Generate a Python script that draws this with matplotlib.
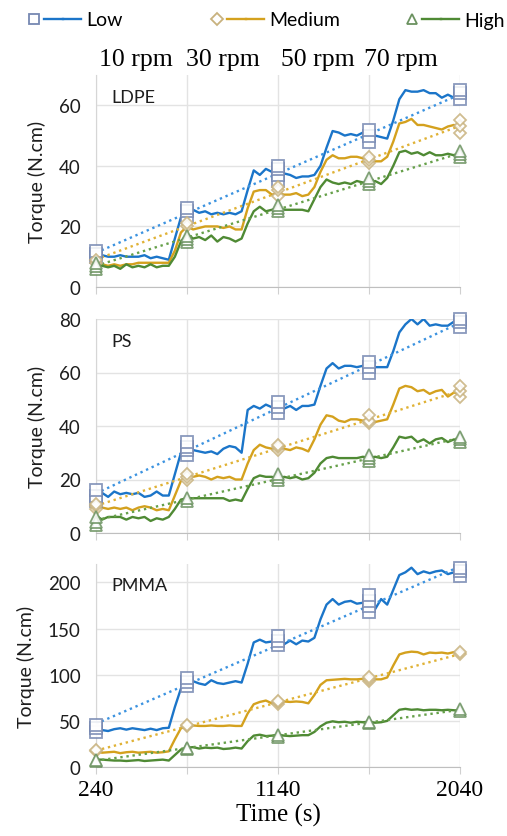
import numpy as np
import matplotlib
matplotlib.use("Agg")
import matplotlib.pyplot as plt
from matplotlib.lines import Line2D
from matplotlib.legend_handler import HandlerTuple

# sampling times of the torque traces (s)
times = np.arange(240, 2041, 30)
# times where the replicate readings were taken
check_times = [240, 690, 1140, 1590, 2040]
rpm_labels = ["10 rpm", "30 rpm", "50 rpm", "70 rpm"]
xtick_labels = ["240", "", "1140", "", "2040"]

# LDPE torque traces (N.cm)
ldpe_low = [11, 10.5, 10, 10, 10.5, 10, 10, 10, 10.5, 9.5, 10, 9.5, 9,
            16, 23,
            25, 25.5, 24.5, 25, 24, 24.5, 24, 24.5, 24, 25,
            32,
            38.5, 37, 39, 38, 38, 37.5, 37, 36, 36.5, 36.5,
            37, 40, 46,
            51.5, 51, 50, 50.5, 50, 51, 50.5, 50, 49.5,
            49, 55, 62,
            65, 64.5, 64.5, 65, 64, 64, 62.5, 63.5, 62.5, 63]
ldpe_med = [8, 7.5, 7, 7.5, 7, 7.5, 7.5, 8, 8, 8, 8, 8, 8,
            12, 18,
            20, 19, 19.5, 20, 20, 20, 19.5, 20, 19, 19,
            26,
            31.5, 32, 32, 30.5, 31, 30.5, 30.5, 31, 30, 30.5,
            33, 38, 42,
            43.5, 42.5, 42.5, 43, 43, 42.5, 41.5, 41.5, 41.5,
            43, 48, 54,
            54.5, 55.5, 53.5, 53.5, 53, 52.5, 52, 53, 53.5, 52]
ldpe_high = [7.5, 7, 6.5, 7, 6, 7.5, 6.5, 7, 6.5, 7.5, 6.5, 7, 7,
             10, 15,
             17.5, 16, 16.5, 15.5, 17, 15, 16.5, 16, 15, 16,
             21,
             25, 26.5, 25, 25.5, 26, 25.5, 25.5, 25.5, 25.5, 25,
             29, 33, 35.5,
             34.5, 34, 34.5, 34, 35, 34.5, 34, 35, 34,
             36, 40, 44.5,
             45, 44, 44.5, 43.5, 44.5, 43.5, 43.5, 44, 43.5, 43.5]
ldpe_low_pts = [[10, 11, 12], [23, 25, 26], [35, 37, 39, 40], [48, 50, 52], [62, 64, 65]]
ldpe_med_pts = [[8, 9], [20, 21], [30, 32, 33], [41, 42, 43], [51, 53, 55]]
ldpe_high_pts = [[6, 7, 8], [15, 16, 17], [25, 26, 27], [34, 35, 36], [43, 44, 45]]

# PS torque traces (N.cm)
ps_low = [15.5, 15, 13.5, 15.5, 14.5, 15, 14.5, 15, 13.5, 14, 15.5, 14, 14,
          22, 30,
          31, 31, 30.5, 30, 30.5, 29.5, 31.5, 32.5, 32, 30,
          46,
          47.5, 46.5, 48, 47, 47, 46.5, 47.5, 46, 47.5, 47.5,
          48, 55, 61.5,
          63.5, 61.5, 62.5, 62.5, 62, 62.5, 63, 62, 62,
          62, 68, 75,
          78, 80, 78, 80, 77.5, 78, 77.5, 77.5, 79, 77]
ps_med = [10, 9.5, 9, 9.5, 9, 9.5, 8.5, 9.5, 10, 9.5, 8.5, 9, 8.5,
          14, 19.5,
          20.5, 21, 21.5, 21, 20, 21, 20.5, 21, 20, 20,
          26,
          31, 33, 32, 31.5, 31.5, 31.5, 31, 32, 31.5, 30.5,
          35, 40.5, 44,
          43.5, 42, 41.5, 42.5, 42.5, 42, 42.5, 41.5, 42,
          42.5, 48, 54,
          55, 54.5, 53, 53.5, 52, 53, 53.5, 51, 52.5, 52]
ps_high = [6.5, 5, 6, 6, 6, 5, 6, 5.5, 6, 4.5, 5.5, 5, 6,
           9, 12.5,
           13, 13, 13, 13, 13, 13, 13, 12, 12.5, 12,
           16.5,
           20.5, 21.5, 21, 21, 20, 21, 20.5, 21, 20, 20.5,
           22.5, 26, 28,
           28.5, 28, 28, 28, 28, 28.5, 28, 28.5, 28,
           28.5, 32, 36,
           35.5, 36, 34, 35, 33.5, 35, 35.5, 34, 35, 34.5]
ps_low_pts = [[12, 14, 16], [29, 31, 32, 34], [45, 47, 49], [60, 62, 64], [77, 79, 80]]
ps_med_pts = [[9, 10, 11], [20, 21, 22], [31, 32, 33], [41, 42, 44], [51, 53, 55]]
ps_high_pts = [[3, 4, 6], [12, 13], [20, 21, 22], [27, 28, 29], [34, 35, 36]]

# PMMA torque traces (N.cm)
pmma_low = [42, 40, 39, 41, 42, 40.5, 42, 41, 40, 41.5, 40, 42, 42.5,
            65, 85,
            90, 93, 90.5, 89, 94, 91, 90, 91.5, 93, 91.5,
            112,
            135, 138, 135, 136, 139, 133, 137, 133, 137, 136,
            140, 160, 176,
            182, 176, 179, 180, 177, 178, 173, 171, 182,
            176, 192, 208,
            211, 216, 209, 212, 210, 212, 213, 209, 211, 210]
pmma_med = [17, 15.5, 16, 16.5, 15, 16, 16.5, 15.5, 16, 16.5, 15.5, 16, 17,
            30, 42,
            44, 45, 44.5, 44.5, 45, 44.5, 44.5, 45, 44.5, 44.5,
            58,
            68, 70.5, 72, 69, 70.5, 71, 70.5, 71, 70.5, 69,
            78, 89, 94,
            94.5, 95, 95.5, 95, 95, 95.5, 94.5, 95, 95,
            97, 110, 122,
            124, 125, 124.5, 122, 124, 123.5, 124, 123, 124.5, 123.5]
pmma_high = [8, 8, 7.5, 7, 7, 6.5, 7, 7.5, 6.5, 7, 7.5, 8, 7,
             13, 19,
             21, 21.5, 20, 21, 20.5, 21, 19.5, 20, 21, 20,
             28,
             34, 35, 33.5, 34, 35, 34, 33.5, 34, 34.5, 34.5,
             38, 44, 48,
             49.5, 48.5, 49, 48, 49, 48.5, 49, 48, 48.5,
             50, 56, 62,
             63, 62, 62.5, 61.5, 62, 62, 61.5, 62, 61.5, 61]
pmma_low_pts = [[38, 42, 45], [88, 92, 96], [132, 137, 142], [168, 175, 180, 186], [207, 212, 216]]
pmma_med_pts = [[17, 18], [44, 46], [68, 70, 72], [93, 95, 97], [122, 125]]
pmma_high_pts = [[6, 8], [20, 21], [33, 35], [48, 49], [61, 63]]

panels = [
    ("LDPE", [ldpe_low, ldpe_med, ldpe_high],
     [ldpe_low_pts, ldpe_med_pts, ldpe_high_pts], 70, [0, 20, 40, 60]),
    ("PS", [ps_low, ps_med, ps_high],
     [ps_low_pts, ps_med_pts, ps_high_pts], 80, [0, 20, 40, 60, 80]),
    ("PMMA", [pmma_low, pmma_med, pmma_high],
     [pmma_low_pts, pmma_med_pts, pmma_high_pts], 220, [0, 50, 100, 150, 200]),
]

series_names = ["Low", "Medium", "High"]
line_colors = ["#1b75c9", "#d4a11e", "#4f8a34"]
trend_colors = ["#3c93e0", "#e0b236", "#66a04a"]
marker_shapes = ["s", "D", "^"]
marker_sizes = [8, 6.5, 8.5]
marker_edges = ["#7688b2", "#c8b27e", "#6b9260"]

sans = ["Lato", "DejaVu Sans"]
serif = ["Liberation Serif", "DejaVu Serif"]
ink = "#1e1e1e"

fig = plt.figure(figsize=(5.07, 8.37), dpi=100)
W, H = 507, 837
boxes = [(76, 288), (320, 534), (565, 768)]
left_px, right_px = 96, 460

for (name, traces, reps, ymax, yticks), (top, bot) in zip(panels, boxes):
    ax = fig.add_axes([left_px / W, 1 - bot / H, (right_px - left_px) / W, (bot - top) / H])
    for k in range(3):
        ax.plot(times, traces[k], color=line_colors[k], lw=1.7, zorder=3)
        # linear trend through all replicate readings
        xs = np.concatenate([np.full(len(r), t) for t, r in zip(check_times, reps[k])])
        ys = np.concatenate([np.array(r, float) for r in reps[k]])
        a, b = np.polyfit(xs, ys, 1)
        tx = np.array([check_times[0], check_times[-1]])
        ax.plot(tx, a * tx + b, color=trend_colors[k], lw=1.7,
                ls=(0, (1, 1.6)), zorder=4)
        for t, r in zip(check_times, reps[k]):
            ax.plot(np.full(len(r), t), r, ls="none", marker=marker_shapes[k],
                    ms=marker_sizes[k], mfc="white", mec=marker_edges[k],
                    mew=1.3, alpha=0.85, zorder=5, clip_on=False)
    ax.set_xlim(240, 2040)
    ax.set_ylim(0, ymax)
    ax.set_xticks(check_times)
    ax.set_yticks(yticks)
    ax.grid(True, color="#e3e3e3", lw=1.0, zorder=0)
    ax.set_axisbelow(True)
    for s in ["top", "right"]:
        ax.spines[s].set_visible(False)
    ax.spines["left"].set_color("#d6d6d6")
    ax.spines["bottom"].set_color("#bfbfbf")
    ax.tick_params(axis="y", length=0, pad=11, labelsize=13.5, labelcolor=ink)
    ax.tick_params(axis="x", length=5, color="#d0d0d0", direction="out")
    for lab in ax.get_yticklabels():
        lab.set_family(sans)
    ax.set_ylabel("Torque (N.cm)", family=sans, fontsize=14, color=ink, labelpad=9)
    ax.text(0.043, 0.935, name, transform=ax.transAxes, family=sans, fontsize=13,
            ha="left", va="top", color=ink)
    if name == "PMMA":
        ax.set_xticklabels(xtick_labels, family=serif, fontsize=17)
        ax.set_xlabel("Time (s)", family=serif, fontsize=18, labelpad=2)
    else:
        ax.set_xticklabels([])

# speed labels above the first panel
for lab, xc in zip(rpm_labels, [136, 223, 318, 401]):
    fig.text(xc / W, 1 - 60 / H, lab, family=serif, fontsize=18.5,
             ha="center", va="center")

# legend entries (marker, then a longer line, then label) spread along the top
for k, x0 in enumerate([25, 208, 403]):
    mk = Line2D([], [], ls="none", marker=marker_shapes[k], ms=marker_sizes[k] * 0.9,
                mfc="white", mec=marker_edges[k], mew=1.3)
    ln = Line2D([], [], color=line_colors[k], lw=1.7)
    fig.legend([(mk, ln, ln)], [series_names[k]], loc="center left",
               bbox_to_anchor=(x0 / W, 1 - 21 / H), frameon=False,
               handlelength=2.9, handletextpad=0.25, borderpad=0, borderaxespad=0,
               handler_map={tuple: HandlerTuple(ndivide=None, pad=0)},
               prop={"family": sans, "size": 14})

fig.savefig("out.png", dpi=100)
